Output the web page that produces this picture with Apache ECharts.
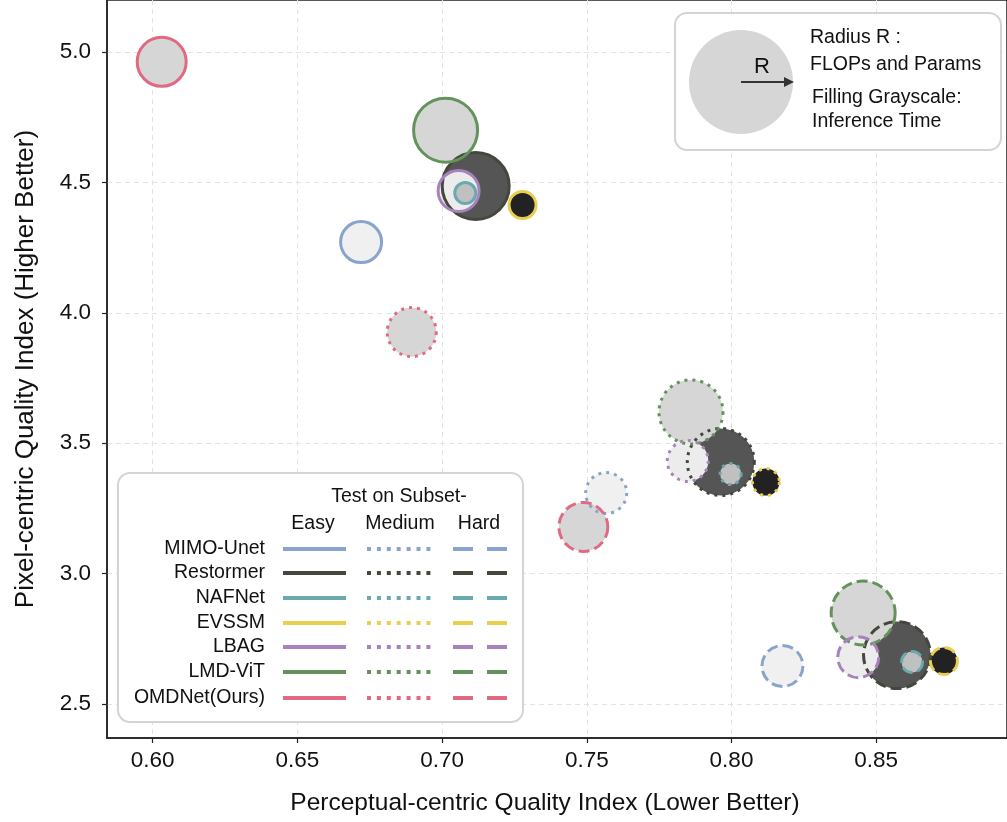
<!DOCTYPE html>
<html>
<head>
<meta charset="utf-8">
<script src="https://cdn.jsdelivr.net/npm/echarts@6/dist/echarts.min.js"></script>
<style>
  html, body { margin: 0; padding: 0; background: #fff; }
  #chart { width: 1007px; height: 822px; }
</style>
</head>
<body>
<div id="chart"></div>
<script>
  // models and their style
  const models = ['MIMO-Unet', 'Restormer', 'NAFNet', 'EVSSM', 'LBAG', 'LMD-ViT', 'OMDNet(Ours)'];
  const edgeColors = ['#88a4cc', '#44483c', '#6aa9b0', '#e9cf4f', '#a882bc', '#63935a', '#e06a82'];
  const fillGray = ['#f0f0f0', '#555555', '#c0c0c0', '#222222', '#ececec', '#d6d6d6', '#d6d6d6'];
  const bubbleSize = [41, 67, 21, 27, 41, 64, 49];

  // subset results (x: perceptual index, y: pixel index)
  const easyX = [0.672, 0.7116, 0.708, 0.7278, 0.7057, 0.7012, 0.6031];
  const easyY = [4.271, 4.486, 4.459, 4.413, 4.467, 4.70, 4.962];
  const mediumX = [0.7567, 0.7963, 0.7997, 0.8119, 0.7849, 0.786, 0.6895];
  const mediumY = [3.309, 3.428, 3.382, 3.351, 3.432, 3.620, 3.926];
  const hardX = [0.8176, 0.8572, 0.8624, 0.8734, 0.8438, 0.8455, 0.7488];
  const hardY = [2.646, 2.688, 2.661, 2.665, 2.680, 2.849, 3.179];

  const xTicks = [0.60, 0.65, 0.70, 0.75, 0.80, 0.85];
  const yTicks = [2.5, 3.0, 3.5, 4.0, 4.5, 5.0];
  const subsets = ['Easy', 'Medium', 'Hard'];

  const font = 'Liberation Sans, Arial, sans-serif';
  const dotted = [3, 5];
  const dashed = [11, 5];

  // fills drawn below, edges drawn on top
  const fillOrder = [1, 5, 4, 2, 3, 0, 6];
  let series = [];
  fillOrder.forEach(function (i) {
    series.push({
      type: 'scatter',
      name: models[i] + '-fill',
      z: 2,
      symbolSize: bubbleSize[i],
      itemStyle: { color: fillGray[i], borderWidth: 0, opacity: 1 },
      emphasis: { disabled: true },
      data: [[easyX[i], easyY[i]], [mediumX[i], mediumY[i]], [hardX[i], hardY[i]]]
    });
  });
  fillOrder.forEach(function (i) {
    series.push({
      type: 'scatter',
      name: models[i],
      z: 3,
      symbolSize: bubbleSize[i],
      itemStyle: { color: 'rgba(0,0,0,0)', borderColor: edgeColors[i], borderWidth: 3, opacity: 1 },
      emphasis: { disabled: true },
      data: [
        { value: [easyX[i], easyY[i]], itemStyle: { borderType: 'solid' } },
        { value: [mediumX[i], mediumY[i]], itemStyle: { borderType: dotted } },
        { value: [hardX[i], hardY[i]], itemStyle: { borderType: dashed } }
      ]
    });
  });

  // custom legend built from graphic elements
  const legFont = '19.5px ' + font;
  let graphics = [];
  graphics.push({
    type: 'rect', z: 100,
    shape: { x: 118, y: 473, width: 405, height: 249, r: 12 },
    style: { fill: '#ffffff', stroke: '#d4d4d4', lineWidth: 2 }
  });
  graphics.push({
    type: 'text', z: 101,
    style: { text: 'Test on Subset-', x: 399, y: 497, font: legFont, fill: '#111', align: 'center', verticalAlign: 'middle' }
  });
  const headX = [313, 400, 479];
  subsets.forEach(function (s, k) {
    graphics.push({
      type: 'text', z: 101,
      style: { text: s, x: headX[k], y: 524, font: legFont, fill: '#111', align: 'center', verticalAlign: 'middle' }
    });
  });
  const rowY = [549, 573, 598, 623, 647, 672, 698];
  models.forEach(function (m, i) {
    const y = rowY[i];
    graphics.push({
      type: 'text', z: 101,
      style: { text: m, x: 265, y: y, font: legFont, fill: '#111', align: 'right', verticalAlign: 'middle' }
    });
    graphics.push({
      type: 'line', z: 101,
      shape: { x1: 283, y1: y, x2: 346, y2: y },
      style: { stroke: edgeColors[i], lineWidth: 4 }
    });
    graphics.push({
      type: 'line', z: 101,
      shape: { x1: 367, y1: y, x2: 431, y2: y },
      style: { stroke: edgeColors[i], lineWidth: 4, lineDash: [4, 5.9] }
    });
    graphics.push({
      type: 'line', z: 101,
      shape: { x1: 453, y1: y, x2: 507, y2: y },
      style: { stroke: edgeColors[i], lineWidth: 4, lineDash: [20, 14] }
    });
  });

  // size / grayscale explanation box
  graphics.push({
    type: 'rect', z: 100,
    shape: { x: 675, y: 13, width: 326, height: 137, r: 12 },
    style: { fill: '#ffffff', stroke: '#d4d4d4', lineWidth: 2 }
  });
  graphics.push({
    type: 'circle', z: 101,
    shape: { cx: 741, cy: 82, r: 52 },
    style: { fill: '#d6d6d6' }
  });
  graphics.push({
    type: 'line', z: 102,
    shape: { x1: 741, y1: 82, x2: 786, y2: 82 },
    style: { stroke: '#333', lineWidth: 2 }
  });
  graphics.push({
    type: 'polygon', z: 102,
    shape: { points: [[784, 77], [794, 82], [784, 87]] },
    style: { fill: '#333' }
  });
  graphics.push({
    type: 'text', z: 102,
    style: { text: 'R', x: 762, y: 67, font: '22px ' + font, fill: '#111', align: 'center', verticalAlign: 'middle' }
  });
  const boxText = [['Radius R :', 810, 38], ['FLOPs and Params', 810, 65], ['Filling Grayscale:', 812, 98], ['Inference Time', 812, 122]];
  boxText.forEach(function (t) {
    graphics.push({
      type: 'text', z: 102,
      style: { text: t[0], x: t[1], y: t[2], font: legFont, fill: '#111', align: 'left', verticalAlign: 'middle' }
    });
  });

  const chart = echarts.init(document.getElementById('chart'));
  chart.setOption({
    animation: false,
    textStyle: { fontFamily: font },
    grid: {
      left: 107, right: -3, top: 0, bottom: 84,
      show: true, borderColor: '#222', borderWidth: 1.5, backgroundColor: 'transparent'
    },
    xAxis: {
      type: 'value',
      min: 0.5842, max: 0.8952,
      name: 'Perceptual-centric Quality Index (Lower Better)',
      nameLocation: 'middle', nameGap: 53,
      nameTextStyle: { fontSize: 24.5, color: '#111', fontFamily: font, padding: [0, 24, 0, 0] },
      axisLine: { show: true, lineStyle: { color: '#222', width: 1.5 } },
      axisTick: { show: true, length: 5, customValues: xTicks, lineStyle: { color: '#222', width: 1.2 } },
      axisLabel: {
        customValues: xTicks, fontSize: 22.5, color: '#111', margin: 11, fontFamily: font,
        formatter: function (v) { return v.toFixed(2); }
      },
      splitLine: { show: true, lineStyle: { color: '#e3e3e3', type: [5, 4], width: 1 } }
    },
    yAxis: {
      type: 'value',
      min: 2.370, max: 5.199,
      name: 'Pixel-centric Quality Index (Higher Better)',
      nameLocation: 'middle', nameGap: 68,
      nameTextStyle: { fontSize: 26, color: '#111', fontFamily: font },
      axisLine: { show: true, lineStyle: { color: '#222', width: 1.5 } },
      axisTick: { show: true, length: 5, customValues: yTicks, lineStyle: { color: '#222', width: 1.2 } },
      axisLabel: {
        customValues: yTicks, fontSize: 22.5, color: '#111', margin: 16, fontFamily: font,
        formatter: function (v) { return v.toFixed(1); }
      },
      splitLine: { show: true, lineStyle: { color: '#e3e3e3', type: [5, 4], width: 1 } }
    },
    series: series,
    graphic: graphics
  });
</script>
</body>
</html>
